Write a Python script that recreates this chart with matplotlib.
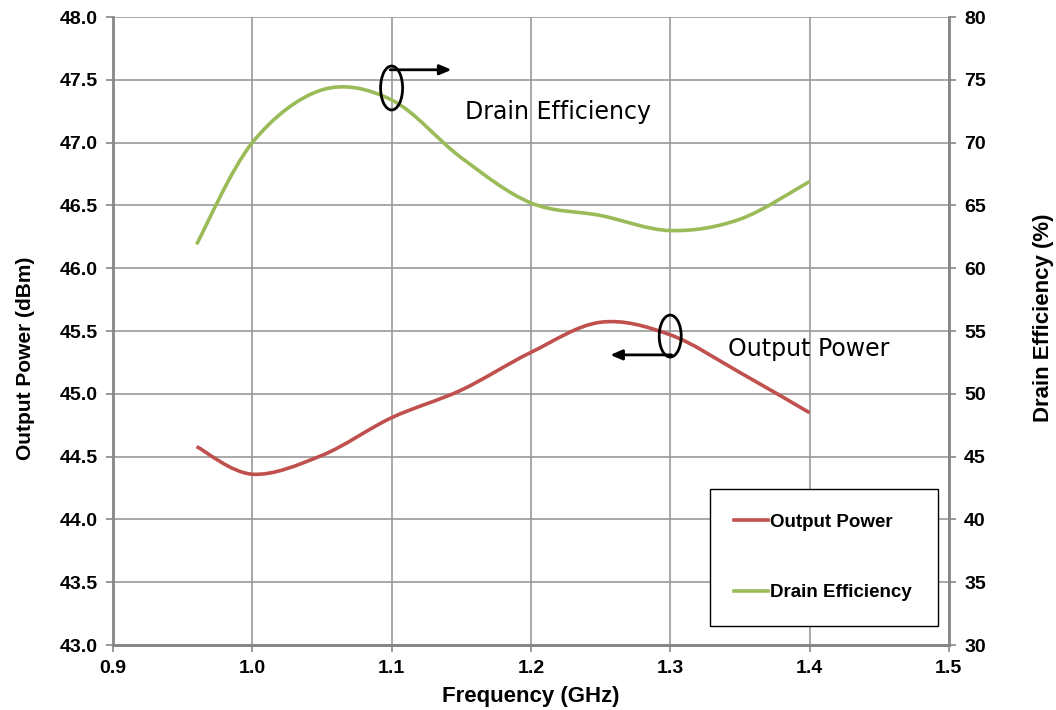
import numpy as np
import matplotlib.pyplot as plt
from matplotlib.path import Path
from matplotlib.patches import PathPatch, Ellipse
from matplotlib.lines import Line2D

# data
freq = [0.96, 1.00, 1.05, 1.10, 1.15, 1.20, 1.25, 1.30, 1.35, 1.40]
output_power = [44.58, 44.36, 44.51, 44.81, 45.03, 45.33, 45.57, 45.47, 45.17, 44.85]
drain_eff = [61.9, 70.0, 74.2, 73.4, 68.8, 65.2, 64.2, 63.0, 63.9, 66.9]

x_ticks = [0.9, 1.0, 1.1, 1.2, 1.3, 1.4, 1.5]
left_ticks = [43.0, 43.5, 44.0, 44.5, 45.0, 45.5, 46.0, 46.5, 47.0, 47.5, 48.0]
right_ticks = [30, 35, 40, 45, 50, 55, 60, 65, 70, 75, 80]

RED = "#C0504D"
GREEN = "#9BBB59"
GRID = "#9a9a9a"
SPINE = "#868686"
FONT = "Liberation Sans"

plt.rcParams["font.family"] = FONT
plt.rcParams["font.weight"] = "bold"
plt.rcParams["axes.labelweight"] = "bold"


def smooth_path(xs, ys):
    """Excel-style smoothed line as cubic Bezier path through the points."""
    pts = np.column_stack([xs, ys])
    n = len(pts)
    verts = [pts[0]]
    codes = [Path.MOVETO]
    for i in range(n - 1):
        p0 = pts[max(i - 1, 0)]
        p1 = pts[i]
        p2 = pts[i + 1]
        p3 = pts[min(i + 2, n - 1)]
        c1 = p1 + (p2 - p0) / 6.0
        c2 = p2 - (p3 - p1) / 6.0
        verts += [c1, c2, p2]
        codes += [Path.CURVE4] * 3
    return Path(verts, codes)


fig = plt.figure(figsize=(10.56, 7.10), dpi=100)
ax = fig.add_axes([0.107, 0.0915, 0.7915, 0.8845])
ax2 = ax.twinx()

ax.set_xlim(0.9, 1.5)
ax.set_ylim(43.0, 48.0)
ax2.set_ylim(30, 80)
ax.set_xticks(x_ticks)
ax.set_yticks(left_ticks)
ax2.set_yticks(right_ticks)
ax.set_xticklabels([f"{v:.1f}" for v in x_ticks])
ax.set_yticklabels([f"{v:.1f}" for v in left_ticks])
ax2.set_yticklabels([str(v) for v in right_ticks])

ax.grid(True, color=GRID, lw=1.2)
ax.set_axisbelow(True)

for a in (ax, ax2):
    a.spines["top"].set_visible(False)
    for s in ("left", "right", "bottom"):
        a.spines[s].set_color(SPINE)
        a.spines[s].set_linewidth(2)
    a.tick_params(direction="out", length=5, width=1.2, color=SPINE,
                  labelsize=14, pad=6)

ax.spines["right"].set_visible(False)
ax2.spines["left"].set_visible(False)

ax.add_patch(PathPatch(smooth_path(freq, output_power), fill=False,
                       edgecolor=RED, lw=2.6, capstyle="butt"))
ax2.add_patch(PathPatch(smooth_path(freq, drain_eff), fill=False,
                        edgecolor=GREEN, lw=2.6, capstyle="butt"))

ax.set_xlabel("Frequency (GHz)", fontsize=16, fontweight="bold", labelpad=6)
ax.set_ylabel("Output Power (dBm)", fontsize=15, fontweight="bold")
ax2.set_ylabel("Drain Efficiency (%)", fontsize=16, fontweight="bold")
ax.yaxis.set_label_coords(-0.105, 0.457)
ax2.yaxis.set_label_coords(1.113, 0.521)
for lab in (ax.yaxis.label, ax2.yaxis.label):
    lab.set_ha("center")
    lab.set_va("center")

# callout: drain efficiency -> right axis
ax2.add_patch(Ellipse((1.1, 74.35), 0.0158, 3.5, fill=False,
                      edgecolor="black", lw=2))
ax2.annotate("", xy=(1.143, 75.8), xytext=(1.099, 75.8),
             arrowprops=dict(arrowstyle="-|>,head_length=0.7,head_width=0.3",
                             color="black", lw=2, shrinkA=0, shrinkB=0))
ax2.text(1.1527, 72.4, "Drain Efficiency", fontsize=17, fontweight="normal",
         fontfamily="DejaVu Sans", va="center", ha="left")

# callout: output power -> left axis
ax.add_patch(Ellipse((1.3, 45.46), 0.0158, 0.334, fill=False,
                     edgecolor="black", lw=2))
ax.annotate("", xy=(1.257, 45.31), xytext=(1.301, 45.31),
            arrowprops=dict(arrowstyle="-|>,head_length=0.7,head_width=0.3",
                            color="black", lw=2, shrinkA=0, shrinkB=0))
ax.text(1.3415, 45.36, "Output Power", fontsize=17, fontweight="normal",
        fontfamily="DejaVu Sans", va="center", ha="left")

handles = [Line2D([], [], color=RED, lw=2.6),
           Line2D([], [], color=GREEN, lw=2.6)]
leg = ax.legend(handles, ["Output Power", "Drain Efficiency"],
                loc="upper left", bbox_to_anchor=(0.714, 0.03, 0.273, 0.218),
                mode="expand", borderaxespad=0, fancybox=False,
                edgecolor="black", framealpha=1, borderpad=1.3,
                labelspacing=2.85, handlelength=1.8, handletextpad=0.1,
                prop={"family": FONT, "weight": "bold", "size": 13.5})
leg.get_frame().set_linewidth(1.0)
leg.set_zorder(5)

fig.savefig("out.png", dpi=100)
